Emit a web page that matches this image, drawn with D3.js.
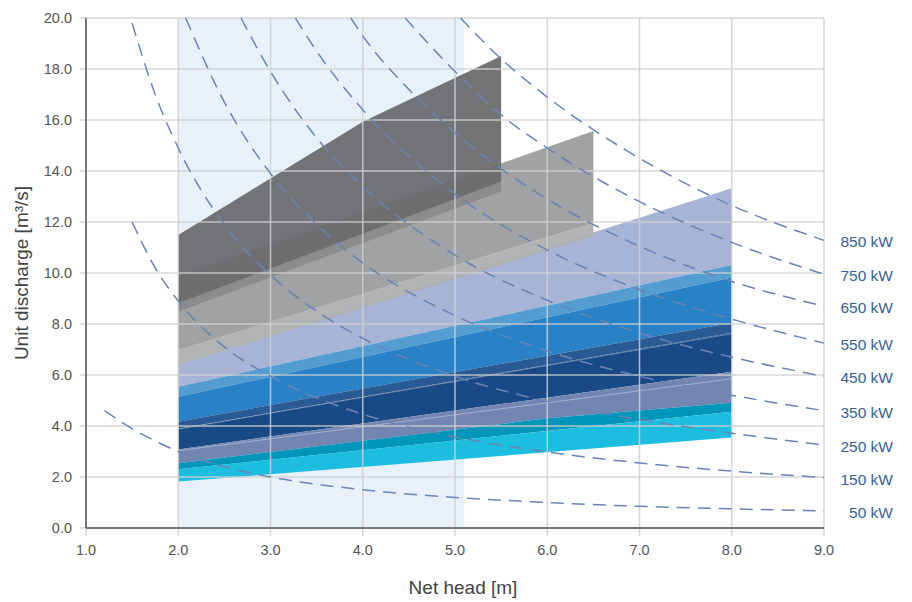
<!DOCTYPE html>
<html>
<head>
<meta charset="utf-8">
<script src="https://cdn.jsdelivr.net/npm/d3@7"></script>
<style>
  body { margin: 0; background: #fff; }
  text { font-family: "Liberation Sans", Arial, sans-serif; }
</style>
</head>
<body>
<script>
// axis ticks
var headTicks = [1, 2, 3, 4, 5, 6, 7, 8, 9];
var dischargeTicks = [0, 2, 4, 6, 8, 10, 12, 14, 16, 18, 20];

// shaded head range in the background
var shadedRange = [2.0, 5.1];

// turbine ranges: top and bottom edges as [head, discharge]
var bandTop = [
  [[2, 6.39], [8, 13.32]],               // lavender
  [[2, 5.54], [8, 10.31]],               // light blue
  [[2, 5.15], [8, 9.82]],                // blue
  [[2, 4.17], [8, 8.05]],                // muted blue
  [[2, 3.88], [8, 7.66]],                // navy
  [[2, 3.08], [8, 6.13]],                // grey blue
  [[2, 2.54], [6, 4.3], [8, 4.91]],      // teal
  [[2, 2.30], [8, 4.56]],                // cyan
  [[2, 6.98], [6.5, 11.95]],             // light grey
  [[2, 9.85], [6.5, 15.57]],             // grey
  [[2, 8.81], [5.5, 13.58]],             // grey strip
  [[2, 11.49], [4, 15.93], [5.5, 18.51]] // dark grey
];
var bandBottom = [
  [[2, 5.54], [8, 10.31]],
  [[2, 5.15], [8, 9.82]],
  [[2, 4.17], [8, 8.05]],
  [[2, 3.88], [8, 7.66]],
  [[2, 3.08], [8, 6.13]],
  [[2, 2.54], [6, 4.3], [8, 4.91]],
  [[2, 2.30], [8, 4.56]],
  [[2, 1.82], [8, 3.55]],
  [[2, 6.39], [6.5, 11.44]],
  [[2, 6.98], [6.5, 11.95]],
  [[2, 8.48], [5.5, 13.2]],
  [[2, 8.81], [5.5, 13.58]]
];
var bandColor = ["#a7b4d5", "#539dd1", "#2981c6", "#2a5a93", "#1a4a85", "#7386b2",
                 "#0096b9", "#1dbde0", "#aeafb1", "#9c9d9f", "#8b8b8e", "#6b6c6f"];

// faint edges inside the blue bands
var edgeLines = [
  [[2, 3.88], [8, 7.62]],
  [[2, 3.03], [8, 5.85]]
];

// constant power curves [head, discharge]
var powerLabels = ["50 kW", "150 kW", "250 kW", "350 kW", "450 kW", "550 kW", "650 kW", "750 kW", "850 kW"];
var powerCurves = [
  [[1.2, 4.6], [1.5, 3.9], [2, 3.0], [2.5, 2.4], [3, 2.0], [4, 1.5], [5, 1.2], [6, 1.0], [7, 0.85], [8, 0.75], [9, 0.67]],
  [[1.5, 12.0], [1.75, 10.2], [2, 8.9], [2.5, 7.1], [3, 5.95], [4, 4.46], [5, 3.57], [6, 2.98], [7, 2.55], [8, 2.23], [9, 1.98]],
  [[1.5, 19.8], [1.75, 17.0], [2, 14.9], [2.5, 11.9], [3, 9.92], [3.5, 8.5], [4, 7.44], [5, 5.95], [6, 4.96], [7, 4.25], [8, 3.72], [9, 3.25]],
  [[2.08, 20], [2.5, 16.7], [3, 13.9], [3.5, 11.9], [4, 10.4], [5, 8.33], [6, 6.94], [7, 5.95], [8, 5.21], [9, 4.6]],
  [[2.68, 20], [3, 17.9], [3.5, 15.3], [4, 13.4], [5, 10.7], [6, 8.93], [7, 7.65], [8, 6.70], [9, 5.95]],
  [[3.27, 20], [3.5, 18.7], [4, 16.4], [5, 13.1], [6, 10.9], [7, 9.35], [8, 8.19], [9, 7.25]],
  [[3.87, 20], [4, 19.3], [4.5, 17.2], [5, 15.5], [6, 12.9], [7, 11.05], [8, 9.67], [9, 8.7]],
  [[4.46, 20], [5, 17.9], [5.5, 16.2], [6, 14.9], [7, 12.8], [8, 11.2], [9, 9.95]],
  [[5.06, 20], [5.5, 18.4], [6, 16.9], [7, 14.5], [8, 12.65], [9, 11.28]]
];

var W = 912, H = 602;
var margin = {top: 18, right: 88, bottom: 74, left: 86};
var w = W - margin.left - margin.right, h = H - margin.top - margin.bottom;

var svg = d3.select("body").append("svg")
    .attr("width", W)
    .attr("height", H);
var g = svg.append("g")
    .attr("transform", "translate(" + margin.left + "," + margin.top + ")");

var x = d3.scaleLinear().domain([1, 9]).range([0, w]);
var y = d3.scaleLinear().domain([0, 20]).range([h, 0]);

var line = d3.line().x(function (d) { return x(d[0]); }).y(function (d) { return y(d[1]); });

// shaded background
g.append("rect")
    .attr("x", x(shadedRange[0]))
    .attr("y", 0)
    .attr("width", x(shadedRange[1]) - x(shadedRange[0]))
    .attr("height", h)
    .attr("fill", "#e8f1f9");

// bands
g.selectAll("path.band")
    .data(bandTop)
    .enter().append("path")
    .attr("class", "band")
    .attr("d", function (d, i) { return line(d.concat(bandBottom[i].slice().reverse())) + "Z"; })
    .attr("fill", function (d, i) { return bandColor[i]; })
    .attr("fill-opacity", function (d, i) { return i >= 8 ? 0.95 : 1; });

g.selectAll("path.edge")
    .data(edgeLines)
    .enter().append("path")
    .attr("class", "edge")
    .attr("d", line)
    .attr("fill", "none")
    .attr("stroke", "#fff")
    .attr("stroke-opacity", 0.35)
    .attr("stroke-width", 1);

// grid lines over the bands
g.selectAll("line.hgrid")
    .data(dischargeTicks)
    .enter().append("line")
    .attr("class", "hgrid")
    .attr("x1", -6).attr("x2", w)
    .attr("y1", y).attr("y2", y)
    .attr("stroke", "#cfcfcf")
    .attr("stroke-opacity", 0.85)
    .attr("stroke-width", 1.5);
g.selectAll("line.vgrid")
    .data(headTicks)
    .enter().append("line")
    .attr("class", "vgrid")
    .attr("x1", x).attr("x2", x)
    .attr("y1", 0).attr("y2", h + 8)
    .attr("stroke", "#cfcfcf")
    .attr("stroke-opacity", 0.85)
    .attr("stroke-width", 1.5);

// power curves
g.selectAll("path.power")
    .data(powerCurves)
    .enter().append("path")
    .attr("class", "power")
    .attr("d", line.curve(d3.curveMonotoneX))
    .attr("fill", "none")
    .attr("stroke", "#6a84b6")
    .attr("stroke-width", 1.5)
    .attr("stroke-dasharray", "13,8");

g.selectAll("text.plabel")
    .data(powerCurves)
    .enter().append("text")
    .attr("class", "plabel")
    .attr("x", w + 69)
    .attr("y", function (d) { return y(d[d.length - 1][1]) + 7; })
    .attr("text-anchor", "end")
    .attr("fill", "#3b5f97")
    .style("font-size", "15.5px")
    .text(function (d, i) { return powerLabels[i]; });

// axes
g.append("line")
    .attr("x1", 0).attr("x2", 0).attr("y1", 0).attr("y2", h)
    .attr("stroke", "#777").attr("stroke-width", 2);
g.append("line")
    .attr("x1", 0).attr("x2", w).attr("y1", h).attr("y2", h)
    .attr("stroke", "#777").attr("stroke-width", 2);

g.selectAll("text.ytick")
    .data(dischargeTicks)
    .enter().append("text")
    .attr("class", "ytick")
    .attr("x", -14)
    .attr("y", function (d) { return y(d) + 5; })
    .attr("text-anchor", "end")
    .attr("fill", "#555")
    .style("font-size", "14.5px")
    .text(d3.format(".1f"));

g.selectAll("text.xtick")
    .data(headTicks)
    .enter().append("text")
    .attr("class", "xtick")
    .attr("x", x)
    .attr("y", h + 27)
    .attr("text-anchor", "middle")
    .attr("fill", "#555")
    .style("font-size", "14.5px")
    .text(d3.format(".1f"));

g.append("text")
    .attr("x", x(5) + 8)
    .attr("y", h + 66)
    .attr("text-anchor", "middle")
    .attr("fill", "#444")
    .style("font-size", "19px")
    .text("Net head [m]");

g.append("text")
    .attr("transform", "translate(" + (-58) + "," + (h / 2) + ") rotate(-90)")
    .attr("text-anchor", "middle")
    .attr("fill", "#444")
    .style("font-size", "19px")
    .text("Unit discharge [m³/s]");
</script>
</body>
</html>
